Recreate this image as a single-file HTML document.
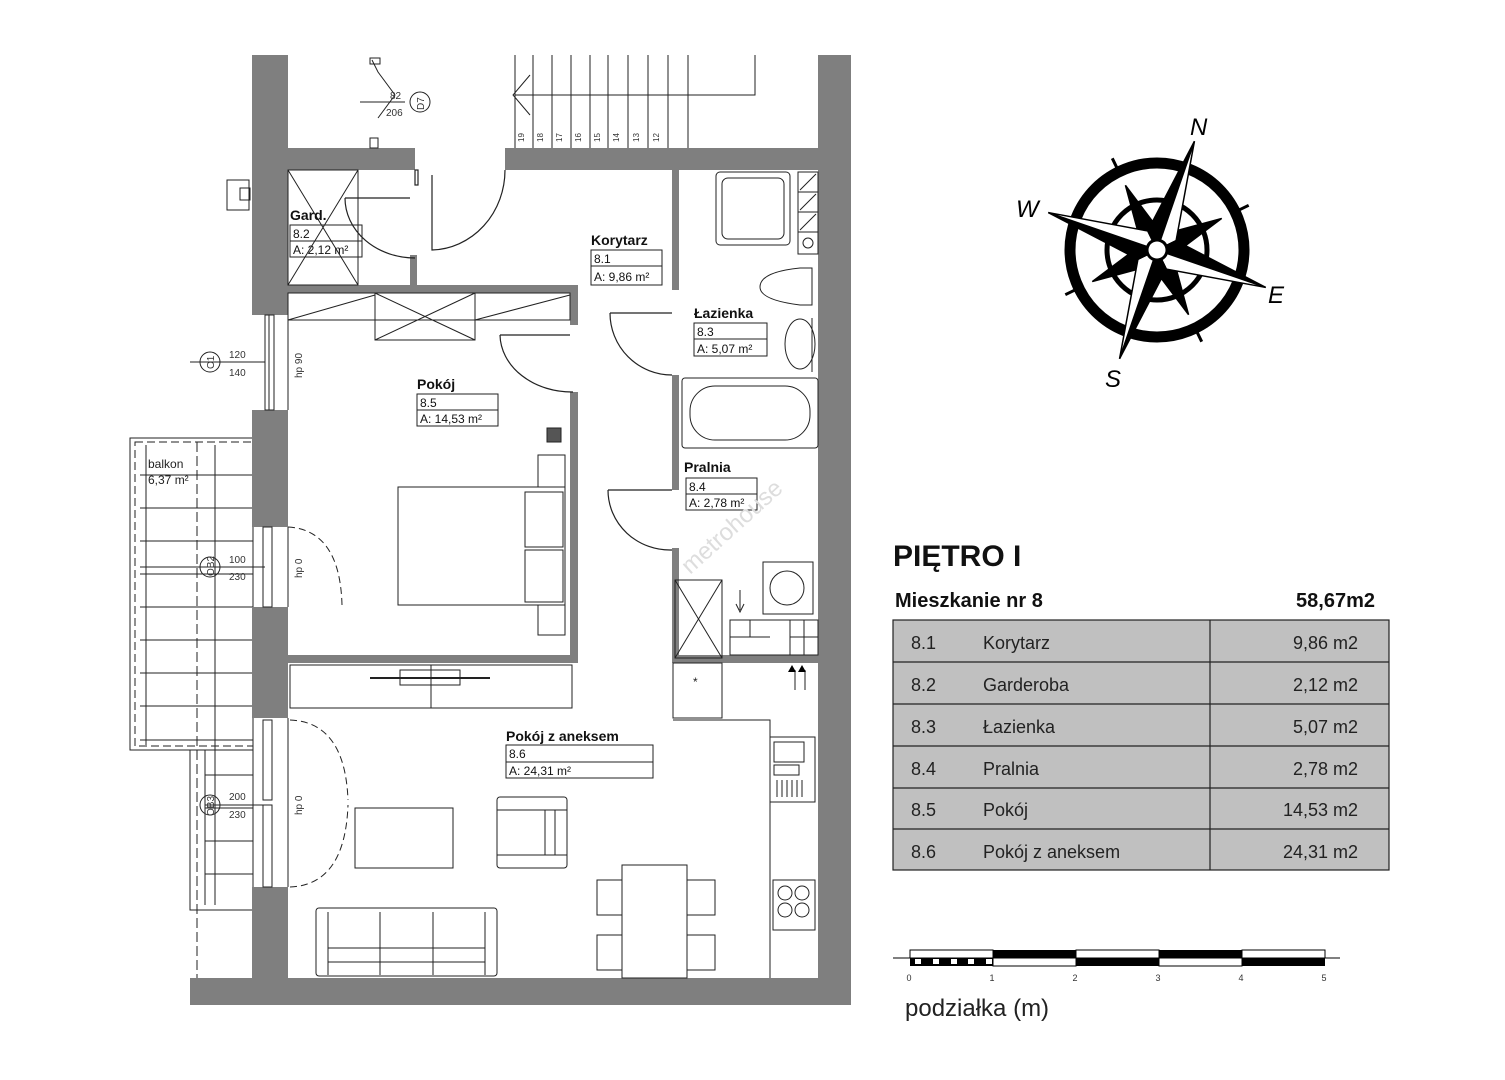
<!DOCTYPE html>
<html><head><meta charset="utf-8"><style>
html,body{margin:0;padding:0;background:#fff;}
svg{display:block;font-family:"Liberation Sans",sans-serif;}
</style></head><body>
<svg width="1505" height="1080" viewBox="0 0 1505 1080" xmlns="http://www.w3.org/2000/svg">
<rect width="1505" height="1080" fill="#fff"/>
<!-- balcony -->
<g fill="none" stroke="#222" stroke-width="1">
<rect x="130" y="438" width="123" height="312"/>
<rect x="135" y="442" width="118" height="304" stroke-dasharray="8,4"/>
<rect x="190" y="750" width="63" height="160"/>
<line x1="197" y1="442" x2="197" y2="1000" stroke-dasharray="10,4"/>
<line x1="205" y1="750" x2="205" y2="905"/>
<path d="M140 475H253M140 508H253M140 541H253M140 574H253M140 607H253M140 640H253M140 673H253M140 706H253M140 740H253M205 775H253M205 808H253M205 841H253M205 874H253"/>
<line x1="146" y1="445" x2="146" y2="745"/>
<line x1="215" y1="445" x2="215" y2="905"/>
</g>
<text x="148" y="468" font-size="12" fill="#222">balkon</text>
<text x="148" y="484" font-size="12" fill="#222">6,37 m²</text>
<!-- walls -->
<g fill="#7f7f7f">
<rect x="252" y="55" width="36" height="260"/>
<rect x="252" y="410" width="36" height="117"/>
<rect x="252" y="607" width="36" height="111"/>
<rect x="252" y="887" width="36" height="118"/>
<rect x="190" y="978" width="661" height="27"/>
<rect x="818" y="55" width="33" height="950"/>
<rect x="288" y="148" width="127" height="22"/>
<rect x="505" y="148" width="313" height="22"/>
<rect x="288" y="285" width="290" height="8"/>
<rect x="570" y="285" width="8" height="40"/>
<rect x="570" y="392" width="8" height="271"/>
<rect x="288" y="655" width="290" height="8"/>
<rect x="672" y="170" width="7" height="120"/>
<rect x="672" y="375" width="7" height="115"/>
<rect x="672" y="548" width="7" height="115"/>
<rect x="672" y="655" width="146" height="8"/>
<rect x="410" y="255" width="7" height="30"/>
</g>
<!-- windows -->
<g fill="none" stroke="#222" stroke-width="1">
<rect x="265" y="315" width="9" height="95"/><line x1="269" y1="315" x2="269" y2="410"/>
<rect x="263" y="527" width="9" height="80"/>
<rect x="263" y="720" width="9" height="80"/><rect x="263" y="805" width="9" height="82"/>
<line x1="288" y1="315" x2="288" y2="410"/><line x1="288" y1="527" x2="288" y2="607"/><line x1="288" y1="718" x2="288" y2="887"/>
<circle cx="210" cy="362" r="10"/><line x1="190" y1="362" x2="265" y2="362"/>
<circle cx="210" cy="567" r="10"/><line x1="140" y1="567" x2="265" y2="567"/>
<circle cx="210" cy="805" r="10"/><line x1="205" y1="805" x2="265" y2="805"/>
</g>
<g font-size="10" fill="#333">
<text x="229" y="358">120</text><text x="229" y="376">140</text>
<text x="229" y="563">100</text><text x="229" y="580">230</text>
<text x="229" y="800">200</text><text x="229" y="818">230</text>
<text transform="translate(214,369) rotate(-90)">O1</text>
<text transform="translate(214,576) rotate(-90)">OB2</text>
<text transform="translate(214,816) rotate(-90)">OB3</text>
<text transform="translate(302,378) rotate(-90)">hp 90</text>
<text transform="translate(302,578) rotate(-90)">hp 0</text>
<text transform="translate(302,815) rotate(-90)">hp 0</text>
</g>
<g fill="none" stroke="#222" stroke-dasharray="7,4">
<path d="M288 527 Q340 530 342 605"/>
<path d="M290 720 Q345 722 348 800"/><path d="M290 887 Q345 885 348 805"/>
</g>
<!-- stairs -->
<g fill="none" stroke="#222" stroke-width="1">
<path d="M515 55V148M533 55V148M552 55V148M571 55V148M590 55V148M608 55V148M628 55V148M648 55V148M668 55V148M688 55V148"/>
<path d="M515 95H755V55"/>
<path d="M530 75L513 95L530 115"/>
</g>
<g font-size="8" fill="#333">
<text transform="translate(524,142) rotate(-90)">19</text><text transform="translate(543,142) rotate(-90)">18</text>
<text transform="translate(562,142) rotate(-90)">17</text><text transform="translate(581,142) rotate(-90)">16</text>
<text transform="translate(600,142) rotate(-90)">15</text><text transform="translate(619,142) rotate(-90)">14</text>
<text transform="translate(639,142) rotate(-90)">13</text><text transform="translate(659,142) rotate(-90)">12</text>
</g>
<g fill="none" stroke="#222">
<path d="M372 60L378 72L395 95L378 118"/><rect x="370" y="58" width="10" height="6"/>
<line x1="360" y1="102" x2="405" y2="102"/><circle cx="420" cy="102" r="10"/>
<rect x="370" y="138" width="8" height="10"/>
<rect x="227" y="180" width="22" height="30"/><rect x="240" y="188" width="10" height="12"/>
</g>
<text x="390" y="99" font-size="10" fill="#333">82</text><text x="386" y="116" font-size="10" fill="#333">206</text>
<text transform="translate(424,110) rotate(-90)" font-size="10" fill="#333">D7</text>
<!-- doors -->
<g fill="none" stroke="#222" stroke-width="1.2">
<path d="M432 175V250 A75 80 0 0 0 505 170"/>
<path d="M345 198H410 M345 198 A70 60 0 0 0 415 258"/>
<path d="M500 335H570 M500 335 A72 58 0 0 0 573 392"/>
<path d="M610 313H672 M610 313 A62 62 0 0 0 672 375"/>
<path d="M608 490H672 M608 490 A62 60 0 0 0 672 550"/>
<rect x="415" y="170" width="3" height="15"/>
</g>
<g fill="none" stroke="#222" stroke-width="1">
<rect x="288" y="170" width="70" height="115"/><path d="M288 170L358 285M358 170L288 285"/>
<rect x="288" y="293" width="282" height="27"/>
<rect x="375" y="293" width="100" height="47"/><path d="M375 293L475 340M475 293L375 340"/>
<path d="M288 320L375 295M475 320L570 295"/>
<rect x="398" y="487" width="167" height="118"/>
<rect x="525" y="492" width="38" height="55"/><rect x="525" y="550" width="38" height="52"/>
<rect x="538" y="455" width="27" height="32"/><rect x="538" y="605" width="27" height="30"/>
<rect x="547" y="428" width="14" height="14" fill="#555"/>
<rect x="716" y="172" width="74" height="73" rx="4"/>
<rect x="722" y="178" width="62" height="61" rx="6"/>
<rect x="798" y="172" width="20" height="82"/>
<path d="M798 192H818M798 212H818M798 232H818M800 190L816 174M800 210L816 194M800 230L816 214"/>
<circle cx="808" cy="243" r="5"/>
<path d="M800 268H812V305H800 Q760 300 760 287 Q760 272 800 268Z"/>
<ellipse cx="800" cy="344" rx="15" ry="25"/><path d="M812 318V372"/>
<rect x="682" y="378" width="136" height="70" rx="3"/>
<rect x="690" y="386" width="120" height="54" rx="25"/>
<rect x="763" y="562" width="50" height="52"/><circle cx="787" cy="588" r="17"/>
<rect x="675" y="580" width="47" height="78"/><path d="M675 580L722 658M722 580L675 658"/>
<rect x="730" y="620" width="88" height="35"/>
<path d="M730 637H770M790 637H818M750 620V637M790 620V655M804 620V655"/>
<path d="M740 590V610M736 604L740 612L744 604" />
<rect x="673" y="663" width="49" height="55"/>
<path d="M673 720H770V978"/>
<rect x="770" y="737" width="45" height="65"/><rect x="774" y="742" width="30" height="20"/><rect x="774" y="765" width="25" height="10"/>
<path d="M777 780V797M782 780V797M787 780V797M792 780V797M797 780V797M802 780V797"/>
<rect x="773" y="880" width="42" height="50"/>
<circle cx="785" cy="893" r="7"/><circle cx="802" cy="893" r="7"/><circle cx="785" cy="910" r="7"/><circle cx="802" cy="910" r="7"/>
<path d="M795 670V690M805 670V690"/>
<rect x="290" y="665" width="282" height="43"/><line x1="431" y1="665" x2="431" y2="708"/>
<rect x="400" y="670" width="60" height="15"/><line x1="370" y1="678" x2="490" y2="678" stroke-width="2"/>
<rect x="355" y="808" width="98" height="60"/>
<rect x="497" y="797" width="70" height="71" rx="3"/><path d="M497 810H567M497 855H567M545 810V855M555 810V855"/>
<rect x="622" y="865" width="65" height="113"/>
<rect x="597" y="880" width="25" height="35"/><rect x="687" y="880" width="28" height="35"/>
<rect x="597" y="935" width="25" height="35"/><rect x="687" y="935" width="28" height="35"/>
<rect x="316" y="908" width="181" height="68" rx="3"/>
<path d="M328 912V975M485 912V975M380 912V975M433 912V975M328 948H485M328 962H485"/>
</g>
<text x="693" y="686" font-size="12" fill="#222">*</text>
<g fill="#000"><path d="M792 665l4 7h-8z M802 665l4 7h-8z"/></g>
<g font-size="13" fill="#111">
<text x="290" y="220" font-weight="bold" font-size="14">Gard.</text>
<rect x="290" y="225" width="72" height="32" fill="none" stroke="#222"/><line x1="290" y1="241" x2="362" y2="241" stroke="#222"/>
<text x="293" y="238" font-size="12">8.2</text><text x="293" y="254" font-size="12">A: 2,12 m²</text>
<text x="591" y="245" font-weight="bold" font-size="14">Korytarz</text>
<rect x="591" y="250" width="71" height="35" fill="none" stroke="#222"/><line x1="591" y1="266" x2="662" y2="266" stroke="#222"/>
<text x="594" y="263" font-size="12">8.1</text><text x="594" y="281" font-size="12">A: 9,86 m²</text>
<text x="694" y="318" font-weight="bold" font-size="14">Łazienka</text>
<rect x="694" y="323" width="73" height="33" fill="none" stroke="#222"/><line x1="694" y1="339" x2="767" y2="339" stroke="#222"/>
<text x="697" y="336" font-size="12">8.3</text><text x="697" y="353" font-size="12">A: 5,07 m²</text>
<text x="417" y="389" font-weight="bold" font-size="14">Pokój</text>
<rect x="417" y="394" width="81" height="32" fill="none" stroke="#222"/><line x1="417" y1="410" x2="498" y2="410" stroke="#222"/>
<text x="420" y="407" font-size="12">8.5</text><text x="420" y="423" font-size="12">A: 14,53 m²</text>
<text x="684" y="472" font-weight="bold" font-size="14">Pralnia</text>
<rect x="686" y="478" width="71" height="32" fill="none" stroke="#222"/><line x1="686" y1="494" x2="757" y2="494" stroke="#222"/>
<text x="689" y="491" font-size="12">8.4</text><text x="689" y="507" font-size="12">A: 2,78 m²</text>
<text x="506" y="741" font-weight="bold" font-size="14">Pokój z aneksem</text>
<rect x="506" y="745" width="147" height="33" fill="none" stroke="#222"/><line x1="506" y1="762" x2="653" y2="762" stroke="#222"/>
<text x="509" y="758" font-size="12">8.6</text><text x="509" y="775" font-size="12">A: 24,31 m²</text>
</g>
<text transform="translate(690,575) rotate(-42)" font-size="24" fill="#ddd">metrohouse</text>
<!-- compass -->
<g transform="translate(1157,250)">
<circle r="87" fill="none" stroke="#000" stroke-width="11"/>
<circle r="50" fill="none" stroke="#000" stroke-width="5"/>
<g transform="rotate(19)">
<g stroke="#000" stroke-width="1.5">
<path d="M0 0L-10 -20L0 -72L10 -20Z" fill="#000"/>
<path d="M0 0L-10 -20L0 -72L10 -20Z" transform="rotate(45)" fill="#000"/>
<path d="M0 0L-10 -20L0 -72L10 -20Z" transform="rotate(135)" fill="#000"/>
<path d="M0 0L-10 -20L0 -72L10 -20Z" transform="rotate(225)" fill="#000"/>
<path d="M0 0L-10 -20L0 -72L10 -20Z" transform="rotate(315)" fill="#000"/>
<g><path d="M0 0L-15 -15L0 -115Z" fill="#000"/><path d="M0 0L15 -15L0 -115Z" fill="#fff"/></g>
<g transform="rotate(90)"><path d="M0 0L-15 -15L0 -115Z" fill="#000"/><path d="M0 0L15 -15L0 -115Z" fill="#fff"/></g>
<g transform="rotate(180)"><path d="M0 0L-15 -15L0 -115Z" fill="#000"/><path d="M0 0L15 -15L0 -115Z" fill="#fff"/></g>
<g transform="rotate(270)"><path d="M0 0L-15 -15L0 -115Z" fill="#000"/><path d="M0 0L15 -15L0 -115Z" fill="#fff"/></g>
</g>
<circle r="10" fill="#fff" stroke="#000" stroke-width="3"/>
<path d="M0 -88L0 -102M88 0L102 0M0 88L0 102M-88 0L-102 0" stroke="#000" stroke-width="3" transform="rotate(45)"/>
</g>
</g>
<g font-size="24" font-style="italic" fill="#000">
<text x="1190" y="135">N</text><text x="1268" y="303">E</text><text x="1105" y="387">S</text><text x="1016" y="217">W</text>
</g>
<text x="893" y="566" font-size="30" font-weight="bold" fill="#111">PIĘTRO I</text>
<text x="895" y="607" font-size="20" font-weight="bold" fill="#111">Mieszkanie nr 8</text>
<text x="1375" y="607" font-size="20" font-weight="bold" fill="#111" text-anchor="end">58,67m2</text>
<g stroke="#222" stroke-width="1.2">
<rect x="893" y="620" width="496" height="250" fill="#c0c0c0"/>
<path d="M1210 620V870M893 662H1389M893 704H1389M893 746H1389M893 788H1389M893 829H1389" fill="none"/>
</g>
<g font-size="18" fill="#222">
<text x="911" y="649">8.1</text><text x="983" y="649">Korytarz</text><text x="1358" y="649" text-anchor="end">9,86 m2</text>
<text x="911" y="691">8.2</text><text x="983" y="691">Garderoba</text><text x="1358" y="691" text-anchor="end">2,12 m2</text>
<text x="911" y="733">8.3</text><text x="983" y="733">Łazienka</text><text x="1358" y="733" text-anchor="end">5,07 m2</text>
<text x="911" y="775">8.4</text><text x="983" y="775">Pralnia</text><text x="1358" y="775" text-anchor="end">2,78 m2</text>
<text x="911" y="816">8.5</text><text x="983" y="816">Pokój</text><text x="1358" y="816" text-anchor="end">14,53 m2</text>
<text x="911" y="858">8.6</text><text x="983" y="858">Pokój z aneksem</text><text x="1358" y="858" text-anchor="end">24,31 m2</text>
</g>
<g>
<rect x="910" y="950" width="83" height="8" fill="#fff" stroke="#000"/>
<rect x="993" y="950" width="83" height="8" fill="#000"/>
<rect x="1076" y="950" width="83" height="8" fill="#fff" stroke="#000"/>
<rect x="1159" y="950" width="83" height="8" fill="#000"/>
<rect x="1242" y="950" width="83" height="8" fill="#fff" stroke="#000"/>
<rect x="910" y="958" width="83" height="8" fill="#000"/>
<rect x="915" y="959" width="6" height="5" fill="#fff"/><rect x="933" y="959" width="6" height="5" fill="#fff"/><rect x="951" y="959" width="6" height="5" fill="#fff"/><rect x="968" y="959" width="6" height="5" fill="#fff"/><rect x="986" y="959" width="6" height="5" fill="#fff"/>
<rect x="993" y="958" width="83" height="8" fill="#fff" stroke="#000"/>
<rect x="1076" y="958" width="83" height="8" fill="#000"/>
<rect x="1159" y="958" width="83" height="8" fill="#fff" stroke="#000"/>
<rect x="1242" y="958" width="83" height="8" fill="#000"/>
<line x1="893" y1="958" x2="1340" y2="958" stroke="#000"/>
</g>
<g font-size="9" fill="#333" text-anchor="middle">
<text x="909" y="981">0</text><text x="992" y="981">1</text><text x="1075" y="981">2</text><text x="1158" y="981">3</text><text x="1241" y="981">4</text><text x="1324" y="981">5</text>
</g>
<text x="905" y="1016" font-size="24" fill="#222">podziałka (m)</text>
</svg>
</body></html>
